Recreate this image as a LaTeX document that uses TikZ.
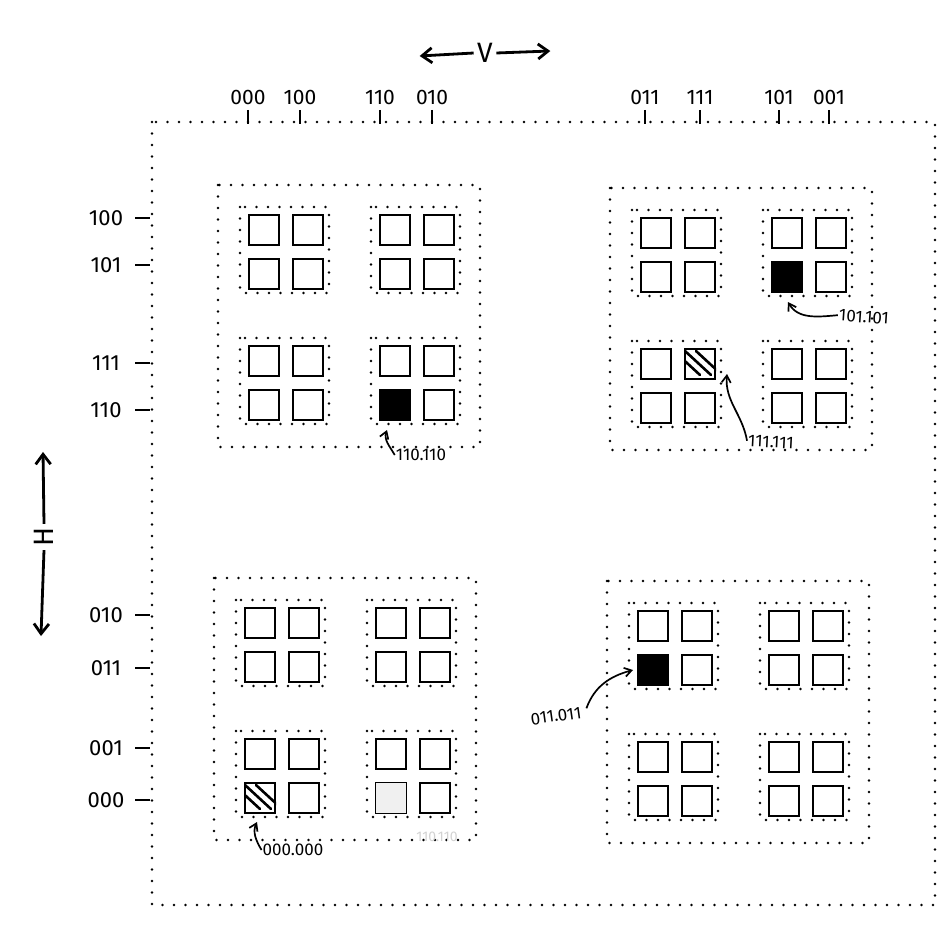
\documentclass[tikz,border=0pt]{standalone}
\usepackage{fontspec}
\setmainfont{Fira Sans}
\usetikzlibrary{arrows.meta,calc}
\tikzset{
  sq/.style={draw, line width=2pt, minimum size=30pt, inner sep=0pt, anchor=north west},
  dots/.style={line width=2.6pt, line cap=round, dash pattern=on 0pt off 11.5pt},
  toplab/.style={font=\fontsize{21}{21}\selectfont, inner sep=1pt},
  leftlab/.style={font=\fontsize{22}{22}\selectfont, inner sep=1pt},
  ann/.style={font=\fontsize{17}{17}\selectfont, inner sep=1pt},
  tick/.style={line width=2pt},
  annarrow/.style={line width=1.7pt, -{Straight Barb[length=7pt,width=9pt]}},
  bigarrow/.style={line width=2.8pt, -{Straight Barb[length=10pt,width=15pt]}},
  hatch/.style={line width=2.6pt, line cap=round}
}
\newcommand\myblock[3]{%
  \draw[dots] ({#2-30},{#3-29}) rectangle ({#2+232},{#3+233});
  \foreach \gi/\gx/\gy in {1/0/0,2/131/0,3/0/131,4/131/131}{%
    \draw[dots] ({#2+\gx-8},{#3+\gy-7}) rectangle ({#2+\gx+81},{#3+\gy+79});
    \foreach \si/\sx/\sy in {1/0/0,2/44/0,3/0/44,4/44/44}{%
      \node[sq] (#1\gi\si) at ({#2+\gx+\sx},{#3+\gy+\sy}) {};
    }%
  }%
}
\newcommand\myhatch[1]{%
  \begin{scope}
    \clip (#1.south west) rectangle (#1.north east);
    \foreach \d in {-11,0,11}{%
      \draw[hatch] ([shift={({\d+1},3)}]#1.north west) -- ([shift={({\d+27},27)}]#1.north west);
    }%
  \end{scope}
}
\begin{document}
\begin{tikzpicture}[x=1pt,y=-1pt]
\useasboundingbox (0,0) rectangle (939,925);
% outer frame
\draw[dots] (152,122) rectangle (935,905);
% top axis
\node[font=\fontsize{28}{28}\selectfont] (V) at (485,53) {V};
\draw[bigarrow] (V.west) -- ++(-54,3);
\draw[bigarrow] (V.east) -- ++(54,-2);
\foreach \x/\t in {248/000,300/100,380/110,432/010,645/011,700/111,779/101,829/001}{%
  \node[toplab] (top\t) at (\x,97) {\t};
  \draw[tick] (\x,110) -- (\x,124);
}
% left axis
\node[font=\fontsize{28}{28}\selectfont, rotate=90] (H) at (44,537) {H};
\draw[bigarrow] (H.east) -- ++(-1,-72);
\draw[bigarrow] (H.west) -- ++(-3,86);
\foreach \y/\t in {218/100,265/101,363/111,410/110,615/010,668/011,748/001,800/000}{%
  \node[leftlab] (left\t) at (106,\y) {\t};
  \draw[tick] (135,\y) -- (150,\y);
}
% blocks
\myblock{A}{248}{214}
\myblock{B}{640}{217}
\myblock{C}{244}{607}
\myblock{D}{637}{610}
% marked cells
\fill[black] (A43.south west) rectangle (A43.north east);
\fill[black] (B23.south west) rectangle (B23.north east);
\fill[black] (D13.south west) rectangle (D13.north east);
\fill[gray!12] ([shift={(1,-1)}]C43.south west) rectangle ([shift={(-1,1)}]C43.north east);
\myhatch{B32}
\myhatch{C33}
% annotations
\node[ann, rotate=-4] (l101) at (864,317) {101.101};
\draw[annarrow] (l101.west) to[out=185,in=-60] ([shift={(1,9)}]B23.south);
\node[ann, rotate=-3] (l111) at (771,442) {111.111};
\draw[annarrow] (l111.west) to[out=100,in=-95] ([shift={(11,-6)}]B32.south east);
\node[ann] (l110) at (421,455) {110.110};
\draw[annarrow] (l110.west) to[out=120,in=-110] ([shift={(-8,9)}]A43.south);
\node[ann, rotate=8] (l011) at (556,716) {011.011};
\draw[annarrow] ([shift={(4,-4)}]l011.east) to[out=70,in=195] ([shift={(-4,0)}]D13.west);
\node[ann] (l000) at (293,850) {000.000};
\draw[annarrow] (l000.west) to[out=120,in=-115] ([shift={(-3,8)}]C33.south);
\node[ann, text=gray!35, font=\fontsize{14}{14}\selectfont] (ghost) at (437,837) {110.110};
\end{tikzpicture}
\end{document}
